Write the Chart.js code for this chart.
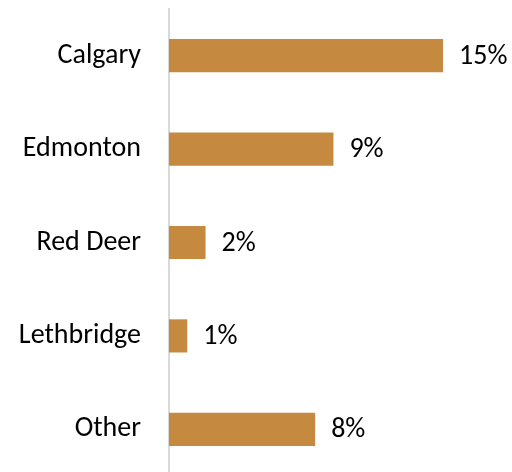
<!DOCTYPE html>
<html>
<head>
<meta charset="utf-8">
<script src="https://cdn.jsdelivr.net/npm/chart.js@4.4.1/dist/chart.umd.min.js"></script>
<style>
    html, body { margin: 0; padding: 0; background: #fff; overflow: hidden; }
    #wrap { width: 512px; height: 476px; }
</style>
</head>
<body>
<div id="wrap"><canvas id="city_share"></canvas></div>
<script>
    const cities = ['Calgary', 'Edmonton', 'Red Deer', 'Lethbridge', 'Other'];
    const shares = [15, 9, 2, 1, 8];

    const FONT = "Carlito, Lato, 'Liberation Sans', sans-serif";

    // value labels at the end of each bar
    const barValueLabels = {
        id: 'barValueLabels',
        afterDatasetsDraw(chart) {
            const ctx = chart.ctx;
            const meta = chart.getDatasetMeta(0);
            ctx.save();
            ctx.font = `28px ${FONT}`;
            ctx.fillStyle = '#000';
            ctx.textAlign = 'left';
            ctx.textBaseline = 'middle';
            meta.data.forEach((bar, i) => {
                ctx.fillText(`${shares[i]}%`, bar.x + 16, bar.y + 1);
            });
            ctx.restore();
        }
    };

    new Chart(document.getElementById('city_share'), {
        type: 'bar',
        data: {
            labels: cities,
            datasets: [{
                data: shares,
                backgroundColor: '#C58940',
                borderWidth: 0,
                barPercentage: 0.355,
                categoryPercentage: 1
            }]
        },
        options: {
            indexAxis: 'y',
            responsive: true,
            maintainAspectRatio: false,
            animation: false,
            layout: { autoPadding: false, padding: { top: 9, right: 5, left: 0, bottom: 0 } },
            plugins: {
                legend: { display: false },
                tooltip: { enabled: false }
            },
            scales: {
                x: {
                    display: false,
                    min: 0,
                    max: 18.5
                },
                y: {
                    grid: { display: false, drawTicks: false },
                    border: { display: true, color: '#d9d9d9', width: 2 },
                    ticks: {
                        color: '#000',
                        padding: 28,
                        font: { family: FONT, size: 28 }
                    },
                    afterFit: scale => {
                        scale.width = 169;
                        // tick padding shouldn't push the category band inward
                        scale.paddingTop = 0;
                        scale.paddingBottom = 0;
                    }
                }
            }
        },
        plugins: [barValueLabels]
    });
</script>
</body>
</html>
